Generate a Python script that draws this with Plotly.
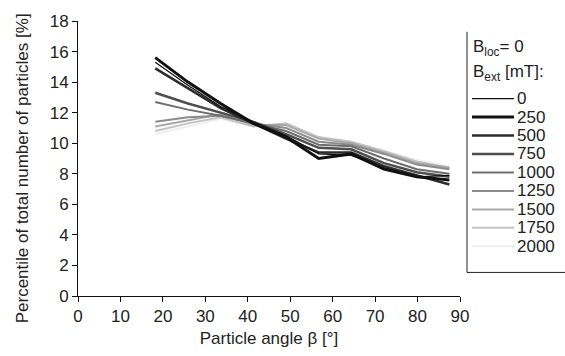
import plotly.graph_objects as go

# Particle angle bin centres [°]
angles = [18.2, 25.9, 33.6, 41.3, 49.0, 56.7, 64.4, 72.1, 79.8, 87.5]

# External field strengths [mT]
fields = ["0", "250", "500", "750", "1000", "1250", "1500", "1750", "2000"]

# Percentile of total number of particles [%] per field strength
pct_0 = [15.3, 13.8, 12.4, 11.4, 10.5, 9.3, 9.2, 8.4, 7.8, 7.9]
pct_250 = [15.6, 14.0, 12.6, 11.3, 10.4, 9.0, 9.3, 8.3, 7.8, 7.6]
pct_500 = [14.9, 13.6, 12.3, 11.3, 10.3, 9.4, 9.4, 8.5, 7.9, 7.3]
pct_750 = [13.3, 12.6, 12.0, 11.4, 10.6, 9.7, 9.6, 8.7, 8.1, 7.8]
pct_1000 = [12.7, 12.2, 11.8, 11.3, 10.8, 9.9, 9.8, 9.0, 8.3, 8.0]
pct_1250 = [11.4, 11.7, 11.8, 11.3, 11.0, 10.1, 9.9, 9.3, 8.6, 8.3]
pct_1500 = [11.1, 11.5, 11.9, 11.2, 11.2, 10.3, 10.0, 9.4, 8.7, 8.4]
pct_1750 = [10.8, 11.3, 11.7, 11.1, 11.3, 10.4, 10.1, 9.5, 8.8, 8.4]
pct_2000 = [10.6, 11.1, 11.6, 11.1, 11.1, 10.3, 10.0, 9.4, 8.9, 8.5]

x_ticks = [0, 10, 20, 30, 40, 50, 60, 70, 80, 90]
y_ticks = [0, 2, 4, 6, 8, 10, 12, 14, 16, 18]

series = [pct_0, pct_250, pct_500, pct_750, pct_1000,
          pct_1250, pct_1500, pct_1750, pct_2000]
colors = ["#111111", "#111111", "#2c2c2c", "#4e4e4e", "#6e6e6e",
          "#8c8c8c", "#a8a8a8", "#c4c4c4", "#efefef"]
widths = [1.3, 3.0, 2.5, 2.5, 2.0, 2.0, 2.0, 2.0, 2.0]

FONT = "Liberation Sans, Arial, sans-serif"
TXT = "#222222"

W, H = 565, 356
ML, MR, MT, MB = 78, 105, 18, 58
PW, PH = W - ML - MR, H - MT - MB


def px(xpix):
    return (xpix - ML) / PW


def py(ypix):
    return (H - MB - ypix) / PH


fig = go.Figure()

# light series first so the dark ones sit on top
for vals, col, w, name in reversed(list(zip(series, colors, widths, fields))):
    fig.add_trace(go.Scatter(
        x=angles, y=vals, mode="lines", name=name,
        line=dict(color=col, width=w), showlegend=False,
    ))

shapes = []
annotations = []

# legend frame: left and bottom edges
shapes.append(dict(type="line", xref="paper", yref="paper",
                   x0=px(467), x1=px(467), y0=py(29), y1=py(274),
                   line=dict(color="#222", width=1)))
shapes.append(dict(type="line", xref="paper", yref="paper",
                   x0=px(467), x1=px(566), y0=py(274), y1=py(274),
                   line=dict(color="#222", width=1)))

annotations.append(dict(xref="paper", yref="paper", x=px(471), y=py(46),
                        xanchor="left", yanchor="middle", showarrow=False,
                        text="B<sub>loc</sub>= 0",
                        font=dict(family=FONT, size=17, color=TXT)))
annotations.append(dict(xref="paper", yref="paper", x=px(471), y=py(71),
                        xanchor="left", yanchor="middle", showarrow=False,
                        text="B<sub>ext</sub> [mT]:",
                        font=dict(family=FONT, size=17, color=TXT)))

for i, (name, col, w) in enumerate(zip(fields, colors, widths)):
    yy = 97 + 18.8 * i
    shapes.append(dict(type="line", xref="paper", yref="paper",
                       x0=px(472), x1=px(514), y0=py(yy), y1=py(yy),
                       line=dict(color=col, width=w)))
    annotations.append(dict(xref="paper", yref="paper", x=px(515), y=py(yy),
                            xanchor="left", yanchor="middle", showarrow=False,
                            text=name,
                            font=dict(family=FONT, size=17, color=TXT)))

# y-axis title
annotations.append(dict(xref="paper", yref="paper", x=px(22), y=py(168),
                        xanchor="center", yanchor="middle", showarrow=False,
                        textangle=-90,
                        text="Percentile of total number of particles [%]",
                        font=dict(family=FONT, size=17, color=TXT)))

fig.update_layout(
    width=W, height=H,
    margin=dict(l=ML, r=MR, t=MT, b=MB),
    paper_bgcolor="white", plot_bgcolor="white",
    font=dict(family=FONT, size=17, color=TXT),
    shapes=shapes, annotations=annotations,
    showlegend=False,
)
fig.update_xaxes(
    range=[0, 90], tickvals=x_ticks, ticktext=[str(v) for v in x_ticks],
    showgrid=False, zeroline=False, showline=True, linecolor="#111",
    linewidth=1, ticks="outside", ticklen=5, tickcolor="#111",
    tickfont=dict(size=17), title=dict(text="Particle angle β [°]",
                                       font=dict(size=17), standoff=6),
)
fig.update_yaxes(
    range=[0, 18], tickvals=y_ticks, ticktext=[str(v) for v in y_ticks],
    showgrid=False, zeroline=False, showline=True, linecolor="#111",
    linewidth=1, ticks="outside", ticklen=5, tickcolor="#111",
    tickfont=dict(size=17),
)

fig.write_html("out.html")
